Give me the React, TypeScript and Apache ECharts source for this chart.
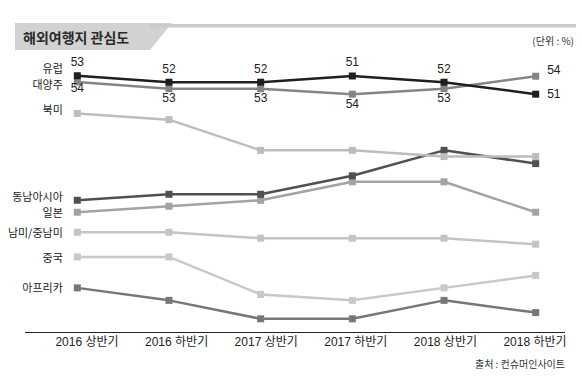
import React, { useEffect, useRef } from "react";
import * as echarts from "echarts";

const categories = ["2016 상반기", "2016 하반기", "2017 상반기", "2017 하반기", "2018 상반기", "2018 하반기"];

// Position on the chart (hidden relative scale, 0-100)
const europe = [97.8, 95.3, 95.3, 97.7, 95.3, 90.7];
const oceania = [95.4, 92.8, 92.8, 90.7, 92.8, 97.6];
const northAmerica = [83.3, 80.9, 69.1, 69.1, 66.7, 66.7];
const seAsia = [49.9, 52.2, 52.2, 59.3, 69.1, 64.0];
const japan = [45.3, 47.6, 49.9, 57.0, 57.0, 45.3];
const southAmerica = [37.6, 37.6, 35.3, 35.3, 35.3, 33.0];
const china = [28.1, 28.1, 13.7, 11.4, 16.2, 21.0];
const africa = [16.2, 11.4, 4.3, 4.3, 11.4, 6.7];

// Printed values (%)
const europeLabels = ["53", "52", "52", "51", "52", "51"];
const oceaniaLabels = ["54", "53", "53", "54", "53", "54"];

const seriesNames = ["유럽", "대양주", "북미", "동남아시아", "일본", "남미/중남미", "중국", "아프리카"];

const FONT = "'Noto Sans CJK KR', 'Noto Sans', sans-serif";
const NUMFONT = "'Liberation Sans', Arial, 'Noto Sans CJK KR', sans-serif";

export default function App() {
  const ref = useRef<HTMLDivElement>(null);

  useEffect(() => {
    if (!ref.current) return;
    const chart = echarts.init(ref.current, undefined, { renderer: "svg" });

    const datasets = [europe, oceania, northAmerica, seAsia, japan, southAmerica, china, africa];
    const colors = ["#1f1f1f", "#858585", "#bdbdbd", "#505050", "#a3a3a3", "#c4c4c4", "#c8c8c8", "#777777"];
    const nameOffsets = [[0, -7.5], [0, 2], [0, -4], [0, -4], [0, 0], [0, 0], [0, 0], [0, -1]];

    const series: any[] = datasets.map((vals, i) => {
      let data: any[] = vals.slice();
      if (i === 0) {
        data = vals.map((v, j) => ({
          value: v,
          label: {
            show: true,
            formatter: europeLabels[j],
            position: j === vals.length - 1 ? "right" : "top",
            distance: j === vals.length - 1 ? 8 : 4,
          },
        }));
      } else if (i === 1) {
        data = vals.map((v, j) => ({
          value: v,
          label: {
            show: true,
            formatter: oceaniaLabels[j],
            position: j === vals.length - 1 ? "right" : "bottom",
            distance: j === vals.length - 1 ? 8 : 0,
            offset: j === vals.length - 1 ? [0, -6] : j === 0 ? [0, -3] : [0, 0],
          },
        }));
      }
      return {
        name: seriesNames[i],
        type: "line",
        xAxisIndex: 0,
        yAxisIndex: 0,
        data,
        z: 10 - i,
        symbol: "rect",
        symbolSize: 7,
        lineStyle: { color: colors[i], width: 2.5 },
        itemStyle: { color: colors[i] },
        label: {
          show: false,
          color: "#222",
          fontSize: 12,
          fontFamily: NUMFONT,
        },
        markPoint: {
          silent: true,
          symbol: "rect",
          symbolSize: 1,
          itemStyle: { color: "rgba(0,0,0,0)" },
          label: {
            show: true,
            position: "left",
            distance: 14,
            offset: nameOffsets[i],
            formatter: seriesNames[i],
            color: "#222",
            fontSize: 11,
            lineHeight: 11,
            fontFamily: FONT,
          },
          data: [{ coord: [0, vals[0]] }],
        },
      };
    });

    chart.setOption({
      animation: false,
      backgroundColor: "#ffffff",
      grid: [
        { left: 77.3, right: 46.3, top: 70, height: 260 },
        { left: 87, right: 47, top: 70, height: 260 },
      ],
      xAxis: [
        {
          gridIndex: 0,
          type: "category",
          data: categories,
          boundaryGap: false,
          axisLine: { show: false },
          axisTick: { show: false },
          axisLabel: { show: false },
          splitLine: { show: false },
        },
        {
          gridIndex: 1,
          type: "category",
          data: categories,
          boundaryGap: false,
          axisLine: { show: false },
          axisTick: { show: false },
          axisLabel: {
            show: true,
            margin: 6,
            color: "#222",
            fontSize: 12,
            fontFamily: NUMFONT,
          },
          splitLine: { show: false },
        },
      ],
      yAxis: [
        { gridIndex: 0, type: "value", min: 0, max: 100, show: false },
        { gridIndex: 1, type: "value", min: 0, max: 1, show: false },
      ],
      series,
      graphic: [
        {
          type: "polygon",
          shape: { points: [[15, 23], [172, 23], [150, 50], [15, 50]] },
          style: { fill: "#d2d2d2" },
          silent: true,
        },
        {
          type: "rect",
          shape: { x: 150, y: 24, width: 426, height: 3.5 },
          style: { fill: "#cbcbcb" },
          silent: true,
        },
        {
          type: "text",
          x: 23,
          y: 37,
          style: {
            text: "해외여행지 관심도",
            fill: "#2a2a2a",
            fontSize: 14,
            fontWeight: "bold",
            fontFamily: FONT,
            verticalAlign: "middle",
            align: "left",
          },
        },
        {
          type: "text",
          x: 574,
          y: 40,
          style: {
            text: "(단위 : %)",
            fill: "#333",
            fontSize: 10,
            fontFamily: FONT,
            verticalAlign: "middle",
            align: "right",
          },
        },
        {
          type: "line",
          shape: { x1: 25, y1: 332.5, x2: 565, y2: 332.5 },
          style: { stroke: "#222", lineWidth: 1 },
          silent: true,
        },
        {
          type: "text",
          x: 565,
          y: 363,
          style: {
            text: "출처 : 컨슈머인사이트",
            fill: "#333",
            fontSize: 10,
            fontFamily: FONT,
            verticalAlign: "middle",
            align: "right",
          },
        },
      ],
    });

    return () => {
      chart.dispose();
    };
  }, []);

  return (
    <div
      ref={ref}
      style={{ position: "fixed", left: 0, top: 0, width: 582, height: 379, background: "#fff" }}
    />
  );
}
